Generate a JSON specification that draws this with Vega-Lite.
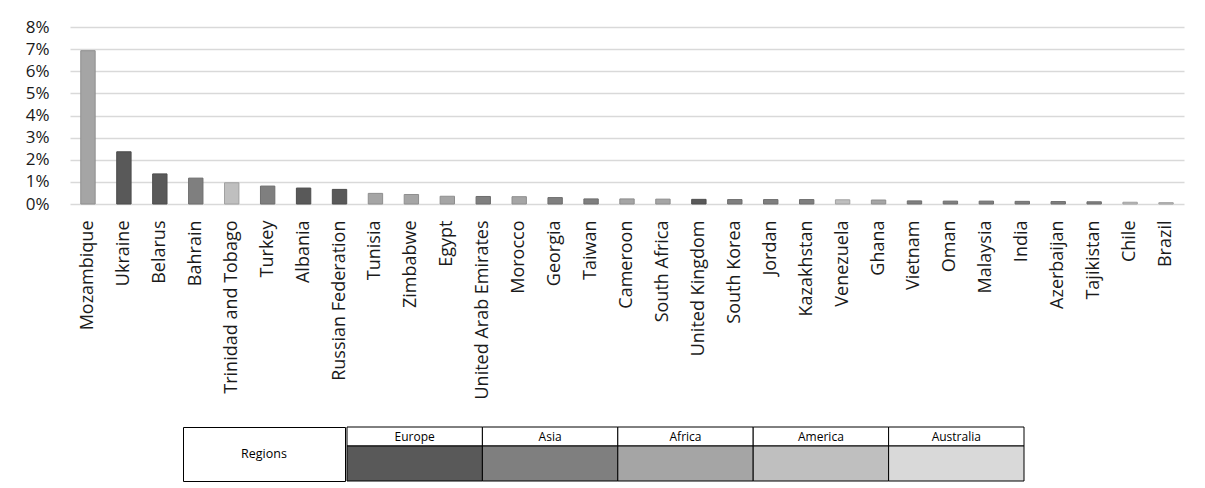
{
  "$schema": "https://vega.github.io/schema/vega-lite/v6.json",
  "background": "white",
  "padding": {"left": 25, "top": 18, "right": 10, "bottom": 5},
  "config": {
    "view": {"stroke": null},
    "font": "Open Sans",
    "concat": {"spacing": 0}
  },
  "datasets": {
    "shares": [
      {"country": "Mozambique", "region": "Africa", "share": 0.0693},
      {"country": "Ukraine", "region": "Europe", "share": 0.0236},
      {"country": "Belarus", "region": "Europe", "share": 0.0136},
      {"country": "Bahrain", "region": "Asia", "share": 0.0117},
      {"country": "Trinidad and Tobago", "region": "America", "share": 0.0096},
      {"country": "Turkey", "region": "Asia", "share": 0.0081},
      {"country": "Albania", "region": "Europe", "share": 0.0072},
      {"country": "Russian Federation", "region": "Europe", "share": 0.0066},
      {"country": "Tunisia", "region": "Africa", "share": 0.0048},
      {"country": "Zimbabwe", "region": "Africa", "share": 0.0043},
      {"country": "Egypt", "region": "Africa", "share": 0.0035},
      {"country": "United Arab Emirates", "region": "Asia", "share": 0.0034},
      {"country": "Morocco", "region": "Africa", "share": 0.0033},
      {"country": "Georgia", "region": "Asia", "share": 0.0029},
      {"country": "Taiwan", "region": "Asia", "share": 0.0023},
      {"country": "Cameroon", "region": "Africa", "share": 0.0023},
      {"country": "South Africa", "region": "Africa", "share": 0.0022},
      {"country": "United Kingdom", "region": "Europe", "share": 0.0021},
      {"country": "South Korea", "region": "Asia", "share": 0.0020},
      {"country": "Jordan", "region": "Asia", "share": 0.0020},
      {"country": "Kazakhstan", "region": "Asia", "share": 0.0020},
      {"country": "Venezuela", "region": "America", "share": 0.0019},
      {"country": "Ghana", "region": "Africa", "share": 0.0018},
      {"country": "Vietnam", "region": "Asia", "share": 0.0014},
      {"country": "Oman", "region": "Asia", "share": 0.0013},
      {"country": "Malaysia", "region": "Asia", "share": 0.0013},
      {"country": "India", "region": "Asia", "share": 0.0012},
      {"country": "Azerbaijan", "region": "Asia", "share": 0.0011},
      {"country": "Tajikistan", "region": "Asia", "share": 0.0010},
      {"country": "Chile", "region": "America", "share": 0.0008},
      {"country": "Brazil", "region": "America", "share": 0.0006}
    ],
    "regions": [
      {"region": "Europe"},
      {"region": "Asia"},
      {"region": "Africa"},
      {"region": "America"},
      {"region": "Australia"}
    ]
  },
  "vconcat": [
    {
      "width": 1114,
      "height": 177,
      "data": {"name": "shares"},
      "mark": {"type": "bar", "strokeWidth": 1},
      "encoding": {
        "x": {
          "field": "country",
          "type": "nominal",
          "sort": null,
          "scale": {"paddingInner": 0.6, "paddingOuter": 0.3},
          "axis": {
            "title": null,
            "labelAngle": -90,
            "labelFontSize": 18,
            "labelColor": "#1a1a1a",
            "labelPadding": 16,
            "labelOverlap": false,
            "labelLimit": 400,
            "ticks": false,
            "domain": false
          }
        },
        "y": {
          "field": "share",
          "type": "quantitative",
          "scale": {"domain": [0, 0.08]},
          "axis": {
            "title": null,
            "format": ".0%",
            "values": [0, 0.01, 0.02, 0.03, 0.04, 0.05, 0.06, 0.07, 0.08],
            "labelFontSize": 17,
            "labelColor": "#1a1a1a",
            "labelPadding": 21,
            "labelOverlap": false,
            "ticks": false,
            "domain": false,
            "grid": true,
            "gridColor": "#d9d9d9",
            "gridWidth": 1.5
          }
        },
        "fill": {
          "field": "region",
          "type": "nominal",
          "scale": {
            "domain": ["Europe", "Asia", "Africa", "America", "Australia"],
            "range": ["#595959", "#7f7f7f", "#a5a5a5", "#bfbfbf", "#d9d9d9"]
          },
          "legend": null
        },
        "stroke": {
          "field": "region",
          "type": "nominal",
          "scale": {
            "domain": ["Europe", "Asia", "Africa", "America", "Australia"],
            "range": ["#4d4d4d", "#6e6e6e", "#8e8e8e", "#a0a0a0", "#bdbdbd"]
          },
          "legend": null
        }
      }
    },
    {
      "spacing": 0,
      "hconcat": [
        {
          "width": 112,
          "height": 54,
          "data": {"values": []},
          "mark": {"type": "point", "opacity": 0}
        },
        {
          "width": 162,
          "height": 54,
          "view": {"stroke": "black", "strokeWidth": 1},
          "data": {"values": [{"label": "Regions"}]},
          "mark": {"type": "text", "fontSize": 12.5, "color": "black", "align": "center", "baseline": "middle"},
          "encoding": {"text": {"field": "label"}}
        },
        {
          "spacing": 0,
          "bounds": "flush",
          "vconcat": [
            {
              "width": 677,
              "height": 19,
              "data": {"name": "regions"},
              "layer": [
                {
                  "mark": {"type": "rect", "fill": "white", "stroke": "black", "strokeWidth": 1},
                  "encoding": {
                    "x": {"field": "region", "type": "nominal", "sort": null, "scale": {"paddingInner": 0, "paddingOuter": 0}, "axis": null}
                  }
                },
                {
                  "mark": {"type": "text", "fontSize": 12, "color": "black", "baseline": "middle"},
                  "encoding": {
                    "x": {"field": "region", "type": "nominal", "sort": null, "axis": null},
                    "text": {"field": "region"}
                  }
                }
              ]
            },
            {
              "width": 677,
              "height": 35,
              "data": {"name": "regions"},
              "mark": {"type": "rect", "stroke": "black", "strokeWidth": 1},
              "encoding": {
                "x": {"field": "region", "type": "nominal", "sort": null, "scale": {"paddingInner": 0, "paddingOuter": 0}, "axis": null},
                "fill": {
                  "field": "region",
                  "type": "nominal",
                  "scale": {
                    "domain": ["Europe", "Asia", "Africa", "America", "Australia"],
                    "range": ["#595959", "#7f7f7f", "#a5a5a5", "#bfbfbf", "#d9d9d9"]
                  },
                  "legend": null
                }
              }
            }
          ]
        }
      ]
    }
  ],
  "spacing": 26
}
